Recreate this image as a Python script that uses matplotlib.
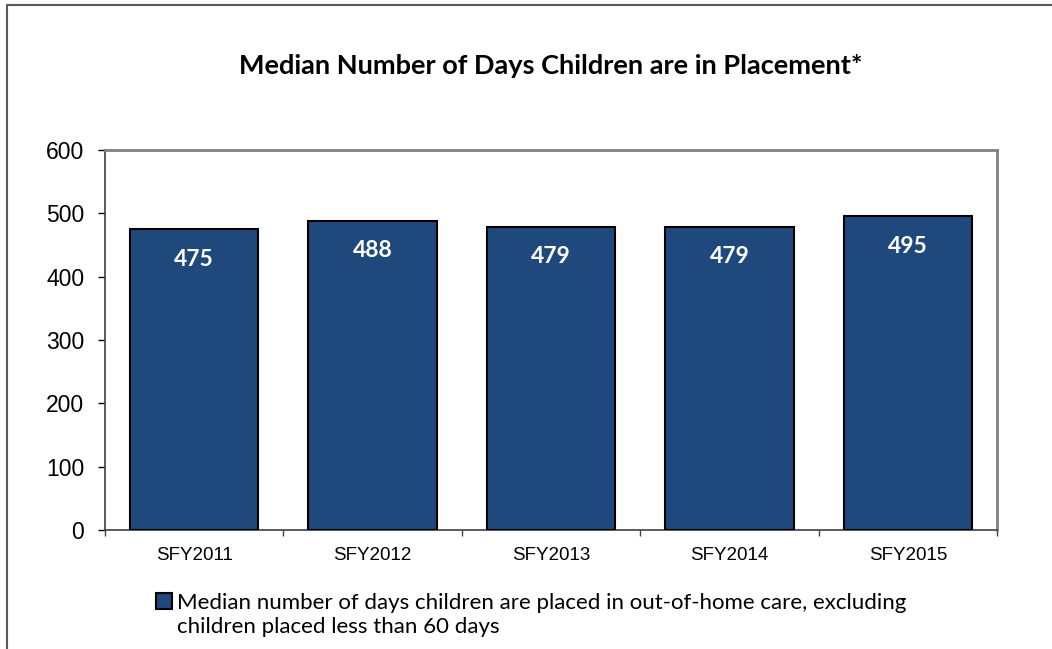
import matplotlib.pyplot as plt
import numpy as np
from matplotlib.lines import Line2D

### Data
years = ['SFY2011', 'SFY2012', 'SFY2013', 'SFY2014', 'SFY2015']
median_days = [475, 488, 479, 479, 495]
series_label = ['Median number of days children are placed in out-of-home care, excluding',
                'children placed less than 60 days']
title = 'Median Number of Days Children are in Placement*'

bar_color = '#1F497D'
W, H = 1052, 649

fig = plt.figure(figsize=(W / 100, H / 100), dpi=100)
ax = fig.add_axes([105 / W, 1 - 530 / H, (997 - 105) / W, (530 - 150) / H])

x = np.arange(len(years))
bars = ax.bar(x, median_days, width=0.72, color=bar_color,
              edgecolor='black', linewidth=1.5, zorder=3)

# value labels inside the top of each bar
for xi, v in zip(x, median_days):
    ax.annotate(str(v), (xi, v), xytext=(0, -21.5), textcoords='offset points',
                ha='center', va='center', color='white',
                fontsize=16.5, fontweight='bold', family='Lato')

ax.set_xlim(-0.5, len(years) - 0.5)
ax.set_ylim(0, 600)
ax.set_yticks(range(0, 601, 100))
ax.tick_params(axis='y', direction='out', length=5, width=1, pad=10,
               labelsize=16.5, colors='black')
for lab in ax.get_yticklabels():
    lab.set_family('Liberation Sans')

# category labels centered, ticks at the boundaries
ax.set_xticks(x)
ax.set_xticklabels(years, family='Liberation Sans', fontsize=13.5)
ax.tick_params(axis='x', which='major', length=0, pad=12)
ax.set_xticks(np.arange(-0.5, len(years)), minor=True)
ax.tick_params(axis='x', which='minor', direction='out', length=4, width=1,
               color='#404040')

ax.spines['top'].set_color('#808080')
ax.spines['right'].set_color('#808080')
ax.spines['top'].set_linewidth(2)
ax.spines['right'].set_linewidth(2)
ax.spines['left'].set_color('#404040')
ax.spines['bottom'].set_color('#404040')
ax.spines['left'].set_linewidth(1.2)
ax.spines['bottom'].set_linewidth(1.2)

fig.text(551 / W, 1 - 66 / H, title, ha='center', va='center',
         fontsize=19.5, fontweight='bold', family='Lato')

# legend: square aligned with the first line, second line wraps underneath
leg = fig.legend(handles=[bars], labels=[series_label[0]], loc='upper left',
                 bbox_to_anchor=(156 / W, 1 - 593 / H), frameon=False,
                 prop={'family': 'Lato', 'size': 16},
                 handlelength=0.7, handleheight=0.7, handletextpad=0.25,
                 borderaxespad=0, borderpad=0)
fig.canvas.draw()
bb = leg.get_texts()[0].get_window_extent()
fig.text(bb.x0 / W, (bb.y0 - 24) / H, series_label[1], ha='left', va='bottom',
         family='Lato', fontsize=16)

# outer chart frame (only left and top edges are visible in the crop)
fig.add_artist(Line2D([7 / W, 7 / W, 1.01], [-0.01, 1 - 5 / H, 1 - 5 / H],
                      transform=fig.transFigure, color='#595959', linewidth=1.5))

fig.savefig('out.png', dpi=100)
